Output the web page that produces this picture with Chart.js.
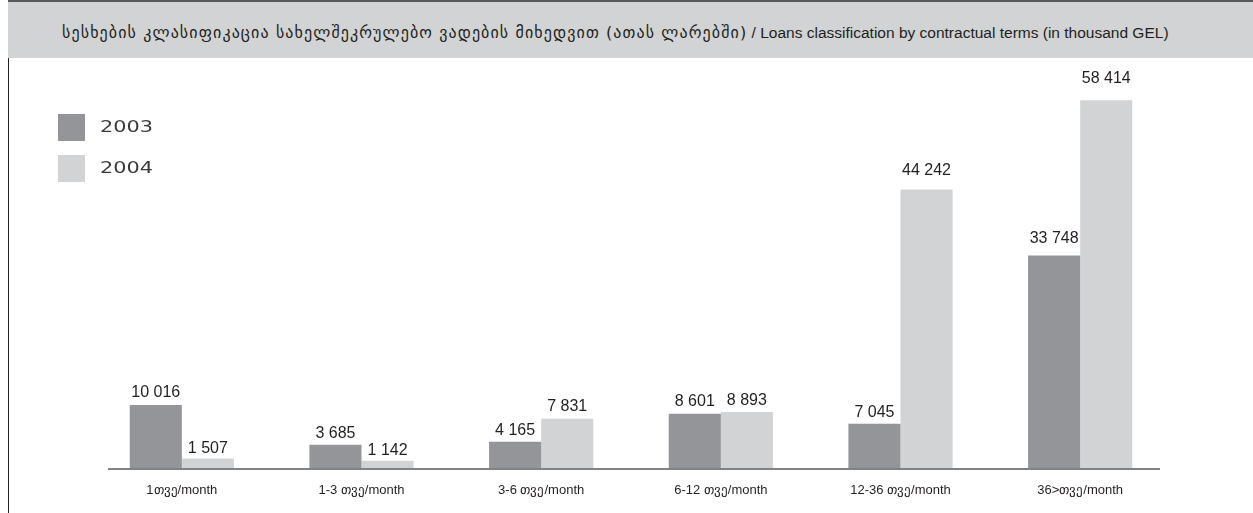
<!DOCTYPE html>
<html>
<head>
<meta charset="utf-8">
<script src="https://cdn.jsdelivr.net/npm/chart.js@4"></script>
<style>
  html, body { margin: 0; padding: 0; background: #ffffff; }
  body { width: 1253px; height: 513px; position: relative; overflow: hidden; }
  .frame-left { position: absolute; left: 8px; top: 0; width: 1px; height: 513px; background: #231f20; }
  .band {
    position: absolute; left: 8px; top: 0; width: 1245px; height: 56px;
    background: #d1d3d4; border-top: 2px solid #58595b;
    color: #231f20; white-space: nowrap;
  }
  .band .t { position: absolute; left: 54px; top: 21px; line-height: 20px; }
  .band .ka { font-family: "DejaVu Sans", sans-serif; font-size: 16px; letter-spacing: 1.1px; }
  .band .en { font-family: "Liberation Sans", Arial, sans-serif; font-size: 15.5px; }
  #wrap { position: absolute; left: 0; top: 58px; width: 1253px; height: 455px; }
</style>
</head>
<body>
<div class="frame-left"></div>
<div class="band"><div class="t"><span class="ka">სესხების კლასიფიკაცია სახელშეკრულებო ვადების მიხედვით (ათას ლარებში)</span><span class="en"> / Loans classification by contractual terms (in thousand GEL)</span></div></div>
<div id="wrap"><canvas id="chart" width="1253" height="455"></canvas></div>
<script>
// Loan terms (categories) and loan volumes per year, thousand GEL
const categories = ["1თვე/month", "1-3 თვე/month", "3-6 თვე/month", "6-12 თვე/month", "12-36 თვე/month", "36>თვე/month"];
const seriesLabels = ["2003", "2004"];
const values2003 = [10016, 3685, 4165, 8601, 7045, 33748];
const values2004 = [1507, 1142, 7831, 8893, 44242, 58414];

const COLOR_2003 = "#939598";
const COLOR_2004 = "#d1d3d4";
const TEXT = "#231f20";

function formatThousands(v) {
  return String(v).replace(/\B(?=(\d{3})+(?!\d))/g, " ");
}

// Value labels above each bar; taller bars get a slightly larger gap
const valueLabels = {
  id: "valueLabels",
  afterDatasetsDraw(chart) {
    const ctx = chart.ctx;
    const yMax = chart.scales.y.max;
    ctx.save();
    ctx.font = '16px "Liberation Sans", Arial, sans-serif';
    ctx.fillStyle = TEXT;
    ctx.textAlign = "center";
    ctx.textBaseline = "middle";
    chart.data.datasets.forEach((ds, di) => {
      chart.getDatasetMeta(di).data.forEach((bar, i) => {
        const gap = 10 + 13 * ds.data[i] / yMax;
        ctx.fillText(formatThousands(ds.data[i]), bar.x, bar.y - gap);
      });
    });
    ctx.restore();
  }
};

// Baseline under the bars
const baseLine = {
  id: "baseLine",
  afterDatasetsDraw(chart) {
    const { ctx, chartArea } = chart;
    ctx.save();
    ctx.strokeStyle = "#808285";
    ctx.lineWidth = 2;
    ctx.beginPath();
    ctx.moveTo(chartArea.left + 16, chartArea.bottom + 1);
    ctx.lineTo(chartArea.right - 10, chartArea.bottom + 1);
    ctx.stroke();
    ctx.restore();
  }
};

// Legend: colour squares with stretched year labels, top-left
const squareLegend = {
  id: "squareLegend",
  afterDraw(chart) {
    const ctx = chart.ctx;
    ctx.save();
    chart.data.datasets.forEach((ds, i) => {
      const top = 56 + i * 41;
      ctx.fillStyle = ds.backgroundColor;
      ctx.fillRect(58, top, 27, 27);
      ctx.save();
      ctx.translate(100, top + 14);
      ctx.scale(1.3, 1);
      ctx.font = '16px "DejaVu Sans", sans-serif';
      ctx.fillStyle = "#3a3a3c";
      ctx.textAlign = "left";
      ctx.textBaseline = "middle";
      ctx.fillText(ds.label, 0, 0);
      ctx.restore();
    });
    ctx.restore();
  }
};

new Chart(document.getElementById("chart"), {
  type: "bar",
  data: {
    labels: categories,
    datasets: [
      { label: seriesLabels[0], data: values2003, backgroundColor: COLOR_2003 },
      { label: seriesLabels[1], data: values2004, backgroundColor: COLOR_2004 }
    ]
  },
  options: {
    responsive: false,
    animation: false,
    devicePixelRatio: 1,
    layout: { padding: { left: 92, right: 83, top: 12, bottom: 0 } },
    datasets: { bar: { barPercentage: 1, categoryPercentage: 0.58, borderWidth: 0 } },
    plugins: { legend: { display: false }, title: { display: false }, tooltip: { enabled: false } },
    scales: {
      x: {
        grid: { display: false, drawTicks: false },
        border: { display: false },
        ticks: {
          color: TEXT,
          padding: 15,
          maxRotation: 0,
          font: { family: '"Liberation Sans", Arial, sans-serif', size: 13 }
        },
        afterFit(scale) { scale.height = 45; }
      },
      y: {
        display: false,
        min: 0,
        max: 63200
      }
    }
  },
  plugins: [valueLabels, baseLine, squareLegend]
});
</script>
</body>
</html>
